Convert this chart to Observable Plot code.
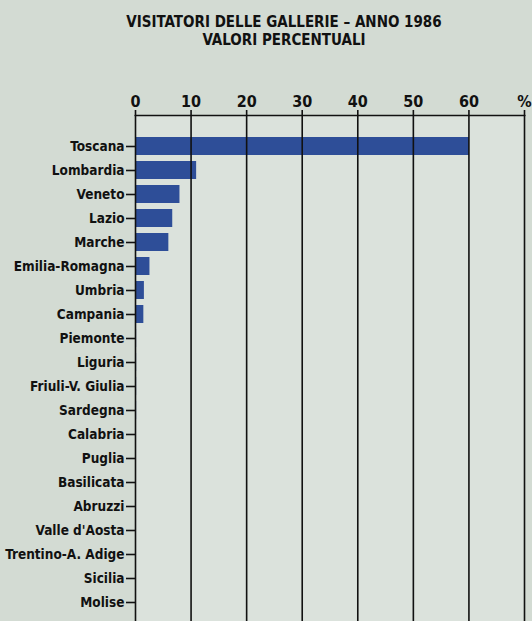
<!DOCTYPE html>
<html>
<head>
<meta charset="utf-8">
<script src="https://cdn.jsdelivr.net/npm/d3@7"></script>
<script src="https://cdn.jsdelivr.net/npm/@observablehq/plot@0.6"></script>
<style>
  html, body { margin: 0; padding: 0; background: #d3dbd3; }
  body { width: 532px; height: 621px; overflow: hidden; }
  #title {
    height: 60px; box-sizing: border-box; padding-top: 13px; padding-left: 36px;
    text-align: center; font-family: "DejaVu Sans Condensed", "DejaVu Sans", sans-serif;
    font-stretch: condensed; font-weight: bold; font-size: 15px; line-height: 18px; color: #111;
  }
  svg text { font-stretch: condensed; }
</style>
</head>
<body>
<div id="title">VISITATORI DELLE GALLERIE – ANNO 1986<br>VALORI PERCENTUALI</div>
<div id="chart"></div>
<script>
const regions = ["Toscana","Lombardia","Veneto","Lazio","Marche","Emilia-Romagna","Umbria","Campania",
  "Piemonte","Liguria","Friuli-V. Giulia","Sardegna","Calabria","Puglia","Basilicata","Abruzzi",
  "Valle d'Aosta","Trentino-A. Adige","Sicilia","Molise"];
const percent = [60.1, 11.0, 8.0, 6.7, 6.0, 2.6, 1.6, 1.5,
  0.2, 0.2, 0.2, 0.2, 0.1, 0.1, 0.1, 0.1, 0.1, 0.1, 0.1, 0.1];
const xTicks = [0, 10, 20, 30, 40, 50, 60, 70];
const xTickLabels = ["0", "10", "20", "30", "40", "50", "60", "%"];

const data = regions.map((r, i) => ({region: r, value: percent[i]}));
const font = "'DejaVu Sans Condensed', 'DejaVu Sans', sans-serif";

const chart = Plot.plot({
  width: 532,
  height: 561,
  marginTop: 55,
  marginLeft: 135,
  marginRight: 8,
  marginBottom: 0,
  style: {background: "#d3dbd3", fontFamily: font, fontSize: "15px", fontWeight: "bold", color: "#111"},
  x: {domain: [0, 70], axis: null},
  y: {domain: regions, range: [61, 566], paddingInner: 0.25, paddingOuter: 0.5, axis: null},
  marks: [
    Plot.frame({fill: "#dbe2dc", stroke: null}),
    Plot.barX(data, {x: "value", y: "region", fill: "#2e4e98"}),
    Plot.gridX(xTicks.slice(1), {stroke: "#111", strokeOpacity: 1, strokeWidth: 1.6}),
    Plot.gridX([0], {stroke: "#111", strokeOpacity: 1, strokeWidth: 1.6}),
    Plot.frame({anchor: "top", stroke: "#111", strokeWidth: 1.6}),
    Plot.axisX(xTicks, {anchor: "top", label: null, tickSize: 6, tickPadding: 3, strokeWidth: 1.6,
      tickFormat: (d) => xTickLabels[xTicks.indexOf(d)], fontSize: 16}),
    Plot.axisY(regions, {anchor: "left", label: null, tickSize: 9, tickPadding: 2, strokeWidth: 1.6, fontSize: 13.5})
  ]
});
document.getElementById("chart").appendChild(chart);
</script>
</body>
</html>
